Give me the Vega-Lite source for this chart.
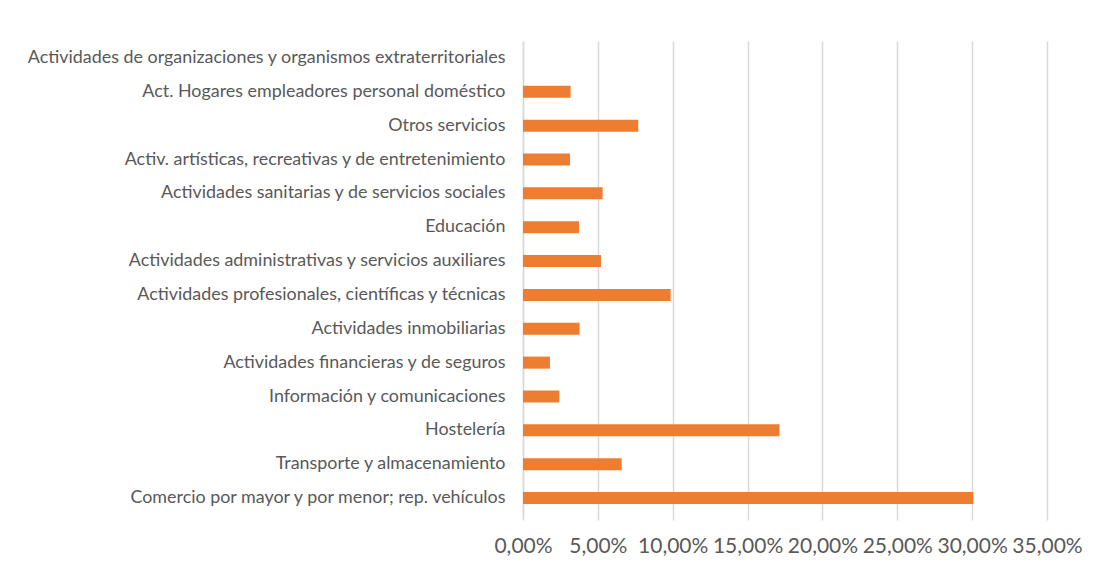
{
  "$schema": "https://vega.github.io/schema/vega-lite/v6.json",
  "autosize": "none",
  "width": 524,
  "height": 474,
  "padding": {"left": 523, "top": 41, "right": 52, "bottom": 54},
  "background": "white",
  "data": {
    "values": [
      {"sector": "Actividades de organizaciones y organismos extraterritoriales", "pct": 0.0},
      {"sector": "Act. Hogares empleadores personal doméstico", "pct": 0.0318},
      {"sector": "Otros servicios", "pct": 0.0770},
      {"sector": "Activ. artísticas, recreativas y de entretenimiento", "pct": 0.0314},
      {"sector": "Actividades sanitarias y de servicios sociales", "pct": 0.0532},
      {"sector": "Educación", "pct": 0.0374},
      {"sector": "Actividades administrativas y servicios auxiliares", "pct": 0.0521},
      {"sector": "Actividades profesionales, científicas y técnicas", "pct": 0.0986},
      {"sector": "Actividades inmobiliarias", "pct": 0.0378},
      {"sector": "Actividades financieras y de seguros", "pct": 0.0180},
      {"sector": "Información y comunicaciones", "pct": 0.0243},
      {"sector": "Hostelería", "pct": 0.1713},
      {"sector": "Transporte y almacenamiento", "pct": 0.0659},
      {"sector": "Comercio por mayor y por menor; rep. vehículos", "pct": 0.3008}
    ]
  },
  "mark": {"type": "bar", "color": "#ED7D31"},
  "encoding": {
    "y": {
      "field": "sector",
      "type": "nominal",
      "sort": null,
      "title": null,
      "scale": {"paddingInner": 0.645, "paddingOuter": 0.3225},
      "axis": {
        "ticks": false,
        "domain": true,
        "domainColor": "#D9D9D9",
        "domainWidth": 1.5,
        "labelPadding": 18,
        "labelLimit": 520,
        "labelFont": "Lato",
        "labelFontSize": 17.9,
        "labelColor": "#595959"
      }
    },
    "x": {
      "field": "pct",
      "type": "quantitative",
      "title": null,
      "scale": {"domain": [0, 0.35], "nice": false},
      "axis": {
        "values": [0, 0.05, 0.1, 0.15, 0.2, 0.25, 0.3, 0.35],
        "labelExpr": "replace(format(datum.value, '.2%'), '.', ',')",
        "grid": true,
        "gridColor": "#D9D9D9",
        "gridWidth": 1.5,
        "domain": false,
        "ticks": true,
        "tickColor": "#D9D9D9",
        "tickWidth": 1.5,
        "tickSize": 5,
        "labelPadding": 15,
        "labelFont": "Lato",
        "labelFontSize": 21,
        "labelColor": "#595959",
        "labelFlush": false,
        "labelOverlap": false
      }
    }
  },
  "config": {"view": {"stroke": null}}
}
